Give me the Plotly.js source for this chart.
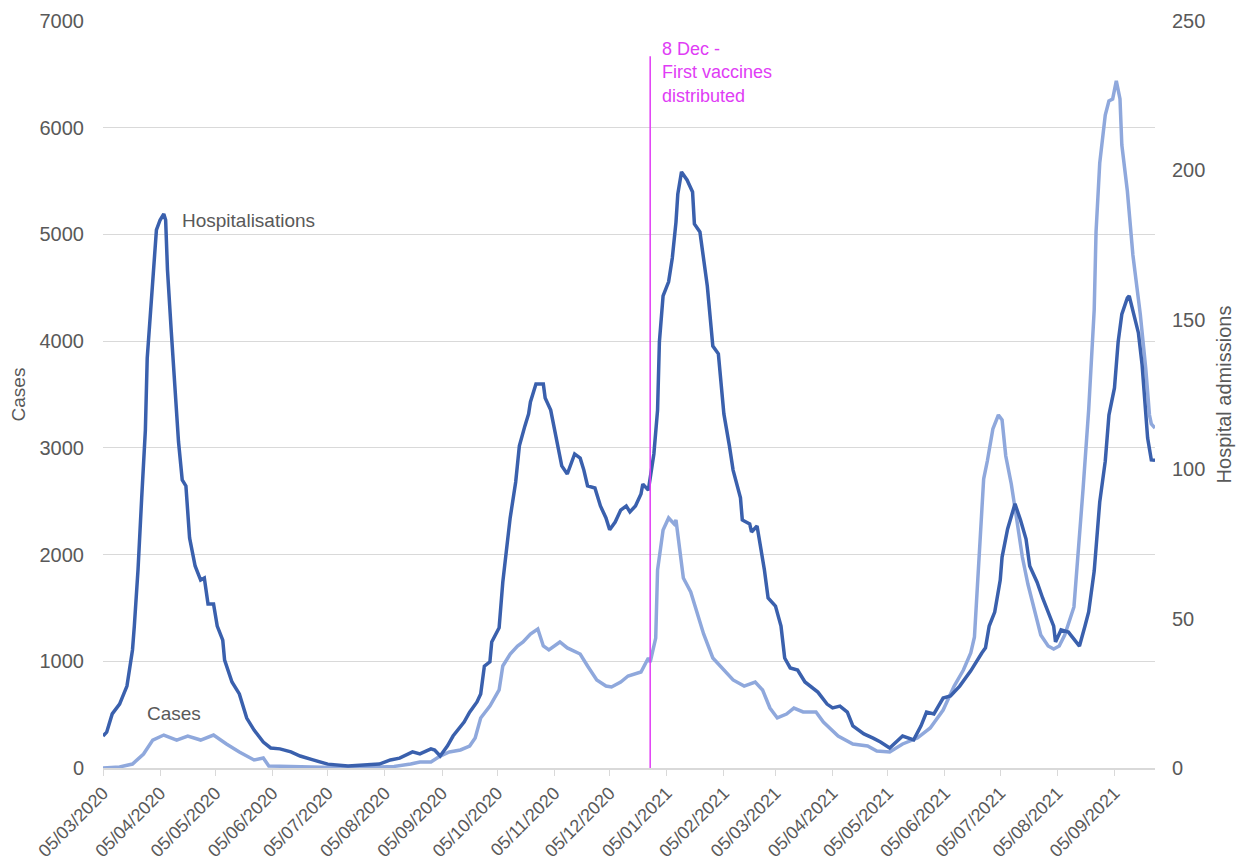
<!DOCTYPE html>
<html>
<head>
<meta charset="utf-8">
<script src="https://cdn.plot.ly/plotly-3.0.1.min.js"></script>
<style>
  html, body { margin: 0; padding: 0; background: #ffffff; }
  #chart { width: 1245px; height: 867px; }
</style>
</head>
<body>
<div id="chart"></div>
<script>
// ---- data (days counted from 05/03/2020) ----
const startDate = '2020-03-05';
const endDate = '2021-09-27';
const vaccineDate = '2020-12-27';

const hospDay = [0,2,5,9,13,16,17,19,21,23,24,27,28,29,31,33,34,35,37,39,41,43,45,47,50,53,55,57,60,62,65,66,70,74,78,82,87,91,96,102,107,114,122,133,143,150,156,161,168,172,178,180,183,187,190,196,199,203,205,207,210,211,215,217,219,221,224,226,229,231,232,235,239,240,243,245,247,249,252,256,259,261,263,267,270,273,275,278,281,284,286,289,292,293,296,299,301,302,304,307,309,311,312,314,317,320,321,324,328,331,334,337,340,342,346,347,351,352,355,357,359,361,365,368,370,373,377,381,388,393,396,400,404,407,413,418,422,427,434,440,444,447,451,456,460,465,471,477,479,481,484,487,488,491,494,495,498,501,503,507,510,513,516,517,520,524,527,530,533,535,538,541,544,546,549,551,553,556,557,559,562,564,566,567,569,571];
const hospVal = [10.7,12.0,18.1,21.4,27.4,39.5,47.5,66.3,90.4,113.1,137.2,162.7,170.7,180.1,183.4,185.4,183.4,166.7,146.6,126.5,109.1,96.4,94.4,77.0,67.6,62.9,63.6,54.9,54.9,47.5,42.8,36.1,28.8,24.8,16.7,12.7,8.7,6.7,6.4,5.4,4.0,2.7,1.3,0.7,1.0,1.3,2.7,3.3,5.4,4.7,6.4,6.0,4.0,7.4,10.7,15.4,18.7,22.1,24.8,34.1,35.5,42.2,46.9,62.2,73.0,83.7,95.7,107.8,114.5,118.5,122.5,128.5,128.5,123.8,119.8,113.1,107.1,101.1,98.4,105.1,103.7,99.7,94.4,93.7,87.7,83.7,79.7,82.3,86.3,87.7,85.7,87.7,91.7,95.0,93.0,105.1,119.8,142.6,158.0,162.7,170.7,182.7,192.1,199.5,196.8,192.8,182.1,179.4,161.3,141.2,138.6,118.5,107.8,99.7,90.4,83.0,81.7,79.0,81.0,74.3,66.3,56.9,54.2,47.5,36.8,33.5,32.8,28.8,25.4,21.4,20.1,20.7,18.7,14.1,11.4,10.0,8.7,6.7,10.7,9.4,14.1,18.7,18.1,23.4,24.1,27.4,32.5,38.5,40.2,47.5,52.2,62.9,70.6,80.0,86.7,88.4,83.0,76.6,67.6,62.2,56.9,52.2,47.5,42.2,46.2,45.5,43.2,40.8,47.5,52.2,65.9,89.0,102.7,118.1,127.2,142.6,151.9,157.3,158.0,152.6,145.6,134.9,118.1,110.4,103.1,103.0];

const caseDay = [0,9,16,22,27,33,40,46,53,60,67,74,82,87,90,107,125,143,158,167,172,178,183,188,194,199,202,205,210,215,217,221,225,228,232,236,239,242,248,252,259,263,268,273,276,281,285,292,296,297,300,301,304,307,310,311,313,315,319,326,331,337,342,348,354,358,362,366,371,375,380,387,391,399,407,415,420,427,434,442,449,456,462,467,471,473,475,477,478,480,483,486,488,490,493,496,499,502,505,509,513,516,519,522,527,529,532,535,538,539,541,544,546,548,550,552,553,556,559,563,566,568,569,571];
const caseVal = [0,10,37,131,262,309,262,300,262,309,225,150,75,94,19,10,5,5,15,37,56,56,112,150,169,206,281,469,581,731,956,1068,1143,1181,1256,1303,1143,1106,1181,1125,1068,956,825,768,759,806,862,900,1031,993,1218,1855,2230,2343,2287,2324,2080,1780,1649,1256,1031,918,825,768,806,731,562,469,506,562,525,525,431,300,225,206,159,150,225,281,375,543,768,918,1078,1228,1846,2361,2708,2877,3177,3308,3261,2924,2661,2324,1977,1724,1509,1246,1143,1115,1143,1246,1509,1940,2624,3355,4292,5023,5669,6119,6250,6269,6438,6269,5838,5407,4807,4254,3739,3308,3224,3186];

const labels = {
  hosp: 'Hospitalisations',
  cases: 'Cases',
  vaccine: '8 Dec -<br>First vaccines<br>distributed',
  yLeft: 'Cases',
  yRight: 'Hospital admissions'
};

// ---- helpers ----
const base = new Date(startDate + 'T00:00:00Z').getTime();
function toDate(d) {
  return new Date(base + d * 86400000).toISOString().slice(0, 10);
}
const hospX = hospDay.map(toDate);
const caseX = caseDay.map(toDate);

const FONT = '"Liberation Sans", Arial, sans-serif';
const GREY = '#595959';
const MAGENTA = '#e03cf5';

const traces = [
  {
    x: caseX, y: caseVal, type: 'scatter', mode: 'lines', name: 'Cases',
    line: { color: '#8fa8dc', width: 3.5, shape: 'linear' },
    yaxis: 'y', hoverinfo: 'x+y'
  },
  {
    x: hospX, y: hospVal, type: 'scatter', mode: 'lines', name: 'Hospitalisations',
    line: { color: '#3a60ad', width: 3.5, shape: 'linear' },
    yaxis: 'y2', hoverinfo: 'x+y'
  }
];

const layout = {
  width: 1245, height: 867,
  margin: { l: 103, r: 90, t: 21, b: 99, pad: 0 },
  paper_bgcolor: '#ffffff', plot_bgcolor: '#ffffff',
  showlegend: false,
  font: { family: FONT, color: GREY, size: 18 },
  xaxis: {
    type: 'date',
    range: [startDate, endDate],
    tick0: startDate, dtick: 'M1',
    tickformat: '%d/%m/%Y',
    tickangle: -45,
    tickfont: { family: FONT, size: 18, color: GREY },
    showgrid: false, zeroline: false,
    showline: true, linecolor: '#d9d9d9', linewidth: 1.5,
    ticks: 'outside', ticklen: 6, tickcolor: '#d9d9d9', tickwidth: 1,
    automargin: false
  },
  yaxis: {
    range: [0, 7000], dtick: 1000, tick0: 0,
    showgrid: true, gridcolor: '#d9d9d9', gridwidth: 1,
    zeroline: false, showline: false, ticks: '',
    ticklabelstandoff: 18,
    tickfont: { family: FONT, size: 20, color: GREY },
    title: { text: labels.yLeft, font: { family: FONT, size: 19, color: GREY }, standoff: 8 },
    automargin: false
  },
  yaxis2: {
    overlaying: 'y', side: 'right',
    range: [0, 250], dtick: 50, tick0: 0,
    showgrid: false, zeroline: false, showline: false, ticks: '',
    ticklabelstandoff: 16,
    tickfont: { family: FONT, size: 20, color: GREY },
    title: { text: labels.yRight, font: { family: FONT, size: 20, color: GREY }, standoff: 12 },
    automargin: false
  },
  shapes: [
    {
      type: 'line', xref: 'x', yref: 'y',
      x0: vaccineDate, x1: vaccineDate, y0: 0, y1: 6670,
      line: { color: MAGENTA, width: 1.5 }, layer: 'above'
    }
  ],
  annotations: [
    {
      xref: 'x', yref: 'y', x: vaccineDate, y: 6850,
      xanchor: 'left', yanchor: 'top', xshift: 10, align: 'left',
      text: labels.vaccine, showarrow: false,
      font: { family: FONT, size: 18, color: MAGENTA }
    },
    {
      xref: 'x', yref: 'y', x: '2020-04-16', y: 5135,
      xanchor: 'left', yanchor: 'middle', text: labels.hosp, showarrow: false,
      font: { family: FONT, size: 19, color: GREY }
    },
    {
      xref: 'x', yref: 'y', x: '2020-03-28', y: 515,
      xanchor: 'left', yanchor: 'middle', text: labels.cases, showarrow: false,
      font: { family: FONT, size: 19, color: GREY }
    }
  ]
};

Plotly.newPlot('chart', traces, layout, { displayModeBar: false, staticPlot: true });
</script>
</body>
</html>
